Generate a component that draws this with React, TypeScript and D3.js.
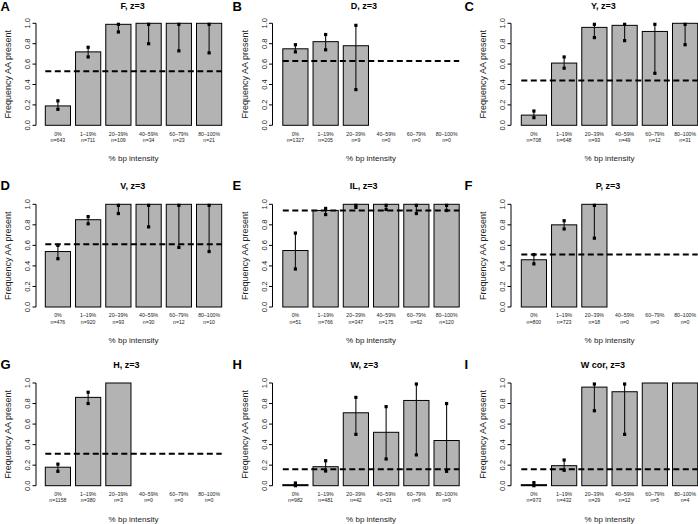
import React from "react";
import * as d3 from "d3";

const categories = ["0%", "1–19%", "20–39%", "40–59%", "60–79%", "80–100%"];
const yTicks = [0, 0.2, 0.4, 0.6, 0.8, 1.0];

// Panel A: F
const freqF = [0.19, 0.72, 0.99, 1.0, 1.0, 1.0];
const lowF = [0.157, 0.67, 0.915, 0.8, 0.73, 0.71];
const highF = [0.24, 0.765, 0.99, 0.99, 0.99, 0.99];
const nF = [643, 711, 109, 34, 23, 21];
const baseF = 0.53;

// Panel B: D
const freqD = [0.75, 0.82, 0.78, null, null, null];
const lowD = [0.72, 0.74, 0.35, null, null, null];
const highD = [0.79, 0.89, 0.98, null, null, null];
const nD = [1327, 205, 9, 0, 0, 0];
const baseD = 0.63;

// Panel C: Y
const freqY = [0.1, 0.61, 0.96, 0.98, 0.92, 1.0];
const lowY = [0.075, 0.56, 0.86, 0.83, 0.51, 0.79];
const highY = [0.14, 0.67, 0.99, 0.99, 0.99, 0.99];
const nY = [708, 648, 93, 49, 12, 31];
const baseY = 0.44;

// Panel D: V
const freqV = [0.54, 0.85, 1.0, 1.0, 1.0, 1.0];
const lowV = [0.47, 0.81, 0.91, 0.78, 0.58, 0.54];
const highV = [0.6, 0.88, 0.99, 0.99, 0.99, 0.99];
const nV = [476, 920, 93, 30, 12, 10];
const baseV = 0.61;

// Panel E: IL
const freqIL = [0.55, 0.94, 1.0, 1.0, 1.0, 1.0];
const lowIL = [0.37, 0.9, 0.97, 0.95, 0.91, 0.94];
const highIL = [0.72, 0.96, 0.99, 0.99, 0.99, 0.99];
const nIL = [51, 766, 347, 175, 62, 120];
const baseIL = 0.94;

// Panel F: P
const freqP = [0.46, 0.8, 1.0, null, null, null];
const lowP = [0.42, 0.76, 0.67, null, null, null];
const highP = [0.51, 0.84, 0.99, null, null, null];
const nP = [800, 723, 18, 0, 0, 0];
const baseP = 0.51;

// Panel G: H
const freqH = [0.18, 0.86, 1.0, null, null, null];
const lowH = [0.14, 0.8, null, null, null, null];
const highH = [0.21, 0.91, null, null, null, null];
const nH = [1158, 380, 3, 0, 0, 0];
const baseH = 0.31;

// Panel H: W
const freqW = [0.01, 0.185, 0.71, 0.52, 0.83, 0.44];
const lowW = [0.0, 0.143, 0.5, 0.26, 0.3, 0.14];
const highW = [0.026, 0.243, 0.86, 0.77, 0.99, 0.8];
const nW = [982, 481, 42, 21, 6, 9];
const baseW = 0.16;

// Panel I: W cor
const freqWc = [0.01, 0.195, 0.96, 0.915, 1.0, 1.0];
const lowWc = [0.0, 0.15, 0.73, 0.5, null, null];
const highWc = [0.03, 0.25, 0.99, 0.99, null, null];
const nWc = [973, 432, 29, 12, 5, 4];
const baseWc = 0.16;

const panels = [
  { letter: "A", title: "F, z=3", freq: freqF, low: lowF, high: highF, n: nF, base: baseF },
  { letter: "B", title: "D, z=3", freq: freqD, low: lowD, high: highD, n: nD, base: baseD },
  { letter: "C", title: "Y, z=3", freq: freqY, low: lowY, high: highY, n: nY, base: baseY },
  { letter: "D", title: "V, z=3", freq: freqV, low: lowV, high: highV, n: nV, base: baseV },
  { letter: "E", title: "IL, z=3", freq: freqIL, low: lowIL, high: highIL, n: nIL, base: baseIL },
  { letter: "F", title: "P, z=3", freq: freqP, low: lowP, high: highP, n: nP, base: baseP },
  { letter: "G", title: "H, z=3", freq: freqH, low: lowH, high: highH, n: nH, base: baseH },
  { letter: "H", title: "W, z=3", freq: freqW, low: lowW, high: highW, n: nW, base: baseW },
  { letter: "I", title: "W cor, z=3", freq: freqWc, low: lowWc, high: highWc, n: nWc, base: baseWc },
];

// layout
const colLayout = [
  { x0: 0, axisX: 36, left: 45.3 },
  { x0: 232, axisX: 272.5, left: 282.8 },
  { x0: 464, axisX: 511, left: 521.3 },
];
const rowLayout = [
  { top: 23.3, bottom: 125.3 },
  { top: 204.3, bottom: 307 },
  { top: 383, bottom: 485.7 },
];
const titleX = [132.7, 364, 603.3, 132.7, 363.7, 608, 126.3, 364.3, 603];
const SPAN = 176.4;
const FONT = "'Liberation Sans', Arial, Helvetica, sans-serif";

function Panel({ p, idx }: { p: any; idx: number }) {
  const col = colLayout[idx % 3];
  const row = rowLayout[Math.floor(idx / 3)];
  const x = d3
    .scaleBand<string>()
    .domain(categories)
    .range([col.left, col.left + SPAN])
    .paddingInner(1 / 6)
    .paddingOuter(0);
  const y = d3.scaleLinear().domain([0, 1]).range([row.bottom, row.top]);
  const bw = x.bandwidth();
  const sq = 3.2;
  return (
    <g>
      <text x={col.x0 + 0.5} y={Math.max(row.top - 14, 11)} fontFamily={FONT} fontWeight="bold" fontSize={13}>
        {p.letter}
      </text>
      <text x={titleX[idx]} y={Math.max(row.top - 15, 9)} textAnchor="middle" fontFamily={FONT} fontWeight="bold" fontSize={9}>
        {p.title}
      </text>
      {/* bars */}
      {categories.map((c, i) =>
        p.freq[i] == null ? null : (
          <rect
            key={"b" + i}
            x={x(c)}
            y={y(p.freq[i])}
            width={bw}
            height={y(0) - y(p.freq[i])}
            fill="#b3b3b3"
            stroke="#000"
            strokeWidth={1}
          />
        )
      )}
      {/* error bars */}
      {categories.map((c, i) => {
        if (p.low[i] == null || p.high[i] == null) return null;
        const cx = (x(c) as number) + bw / 2;
        return (
          <g key={"e" + i}>
            <line x1={cx} x2={cx} y1={y(p.low[i])} y2={y(p.high[i])} stroke="#111" strokeWidth={1.1} />
            <rect x={cx - sq / 2} y={y(p.low[i]) - sq / 2} width={sq} height={sq} fill="#000" />
            <rect x={cx - sq / 2} y={y(p.high[i]) - sq / 2} width={sq} height={sq} fill="#000" />
          </g>
        );
      })}
      {/* baseline dashed */}
      <line
        x1={col.left}
        x2={col.left + SPAN}
        y1={y(p.base)}
        y2={y(p.base)}
        stroke="#000"
        strokeWidth={2}
        strokeDasharray="6,3.5"
      />
      {/* y axis */}
      <line x1={col.axisX} x2={col.axisX} y1={y(0)} y2={y(1)} stroke="#000" strokeWidth={1} />
      {yTicks.map((t) => (
        <g key={"t" + t}>
          <line x1={col.axisX - 3.5} x2={col.axisX} y1={y(t)} y2={y(t)} stroke="#000" strokeWidth={1} />
          <text
            transform={`translate(${col.axisX - 5.6},${y(t)}) rotate(-90)`}
            textAnchor="middle"
            fontFamily={FONT}
            fontSize={7.5}
            fill="#222"
          >
            {t.toFixed(1)}
          </text>
        </g>
      ))}
      <text
        transform={`translate(${col.axisX - 24.8},${(y(0) + y(1)) / 2}) rotate(-90)`}
        textAnchor="middle"
        fontFamily={FONT}
        fontSize={9}
        fill="#222"
      >
        Frequency AA present
      </text>
      {/* x labels */}
      {categories.map((c, i) => {
        const cx = (x(c) as number) + bw / 2;
        return (
          <g key={"x" + i} fontFamily={FONT} fontSize={5.2} fill="#222" textAnchor="middle">
            <text x={cx} y={row.bottom + 10.3}>{c}</text>
            <text x={cx} y={row.bottom + 16.6}>{"n=" + p.n[i]}</text>
          </g>
        );
      })}
      <text
        x={col.left + SPAN / 2}
        y={row.bottom + 36}
        textAnchor="middle"
        fontFamily={FONT}
        fontSize={8}
        fill="#222"
      >
        % bp intensity
      </text>
    </g>
  );
}

export default function App() {
  return (
    <svg
      width={698}
      height={524}
      viewBox="0 0 698 524"
      style={{ position: "absolute", left: 0, top: 0, background: "#fff" }}
    >
      <rect x={0} y={0} width={698} height={524} fill="#fff" />
      {panels.map((p, i) => (
        <Panel key={p.letter} p={p} idx={i} />
      ))}
    </svg>
  );
}
